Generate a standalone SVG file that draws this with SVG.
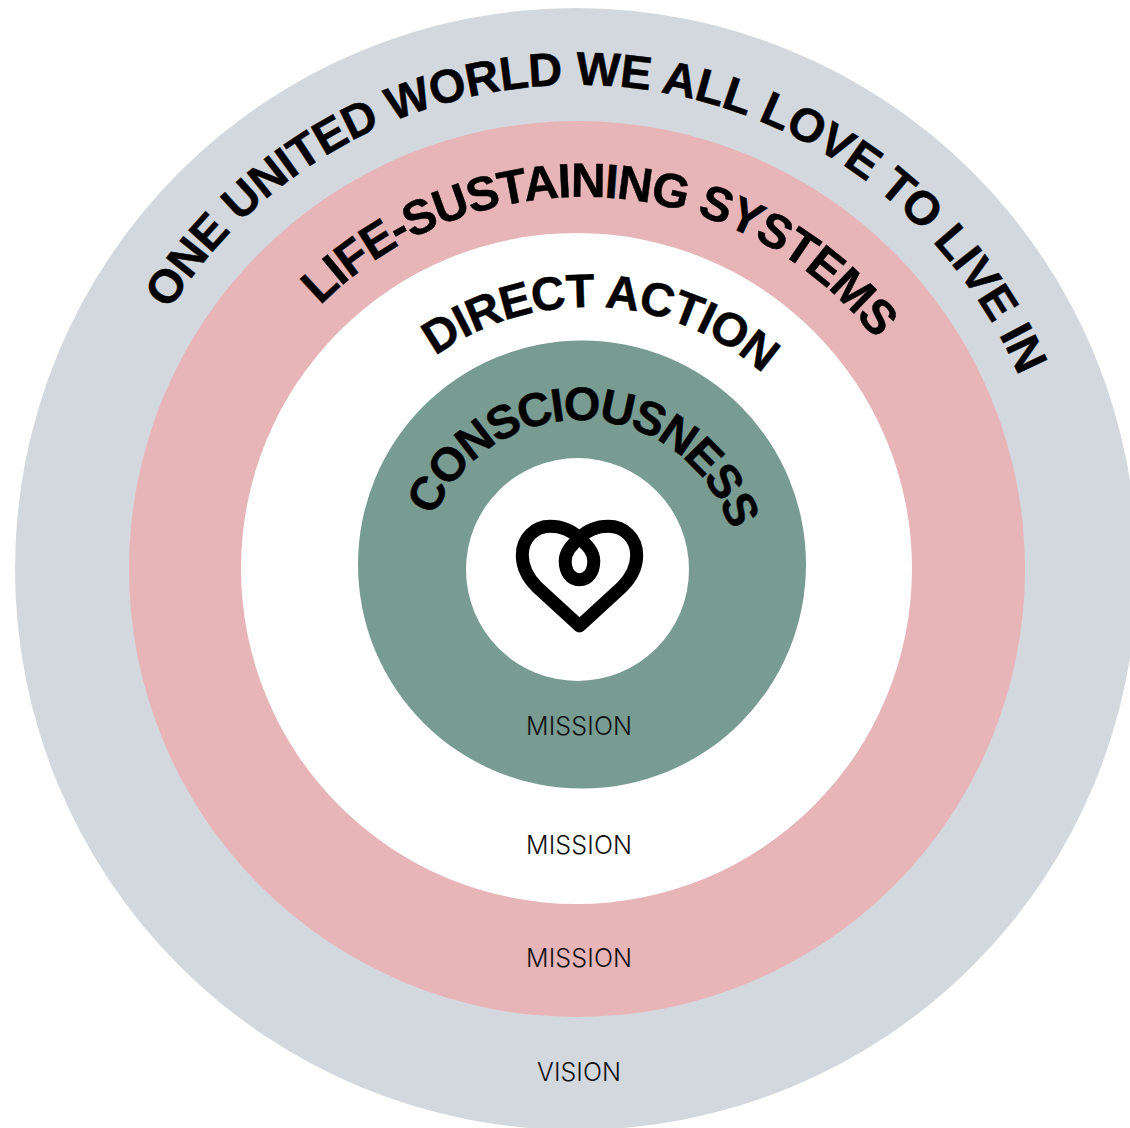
<svg xmlns="http://www.w3.org/2000/svg" width="1130" height="1128" viewBox="0 0 1130 1128">
<style>
.c{font-family:"Liberation Sans",Arial,sans-serif;font-weight:700;fill:#000;stroke:#000;stroke-width:.5px;text-anchor:middle}
.m{font-family:Inter,"Liberation Sans",Arial,sans-serif;font-weight:300;font-size:25px;fill:#111;text-anchor:middle}
</style>
<defs>
<path id="p1" d="M96 569A481 481 0 0 1 1058 569"/>
<path id="p2" d="M205 569A372 372 0 0 1 949 569"/>
<path id="p3" d="M315 569A262 262 0 0 1 839 569"/>
<path id="p4" d="M419 569A158 158 0 0 1 735 569"/>
</defs>
<g id="ring-world">
<circle cx="576" cy="569" r="561" fill="#d3d8de"/>
<text class="c" font-size="47" letter-spacing="-.55" transform="translate(0 -3) rotate(4.4 577 569)"><textPath href="#p1" startOffset="50%">ONE UNITED WORLD WE ALL LOVE TO LIVE IN</textPath></text>
<text class="m" x="579" y="1081" textLength="84">VISION</text>
</g>
<g id="ring-life">
<circle cx="577" cy="569" r="448" fill="#e7b5b8"/>
<text class="c" font-size="48" letter-spacing="-1.2" transform="translate(6 0) rotate(3.4 577 569)"><textPath href="#p2" startOffset="50%">LIFE-SUSTAINING SYSTEMS</textPath></text>
<text class="m" x="579" y="967" textLength="106">MISSION</text>
</g>
<g id="ring-action">
<circle cx="576.5" cy="568.5" r="335.5" fill="#fff"/>
<text class="c" font-size="47" letter-spacing="-1" transform="translate(11 0) rotate(3 577 569)"><textPath href="#p3" startOffset="50%">DIRECT ACTION</textPath></text>
<text class="m" x="579" y="854" textLength="106">MISSION</text>
</g>
<g id="ring-consciousness">
<circle cx="582" cy="564.5" r="224" fill="#789b92"/>
<text class="c" font-size="47" letter-spacing="-2.3" transform="translate(3 9) rotate(2.2 577 569)"><textPath href="#p4" startOffset="50%">CONSCIOUSNESS</textPath></text>
<text class="m" x="579" y="735" textLength="106">MISSION</text>
</g>
<g id="heart">
<circle cx="577.5" cy="569.5" r="111.5" fill="#fff"/>
<path d="M579.5 626L537 587C527 577 522.3 567 522.3 555C522.3 538 535 526.3 550 526.3C562 526.3 571 530 579.3 538C588 546 593.8 552 593.8 561C593.8 572 588 579.7 579.5 579.7C571 579.7 565.2 572 565.2 561C565.2 552 571 546 579.3 538C587.5 530 597 526.3 608.3 526.3C624 526.3 636.7 538 636.7 555C636.7 567 632 577 622 587Z" fill="none" stroke="#000" stroke-width="13" stroke-linejoin="round"/>
</g>
<g id="connectors"/>
</svg>
